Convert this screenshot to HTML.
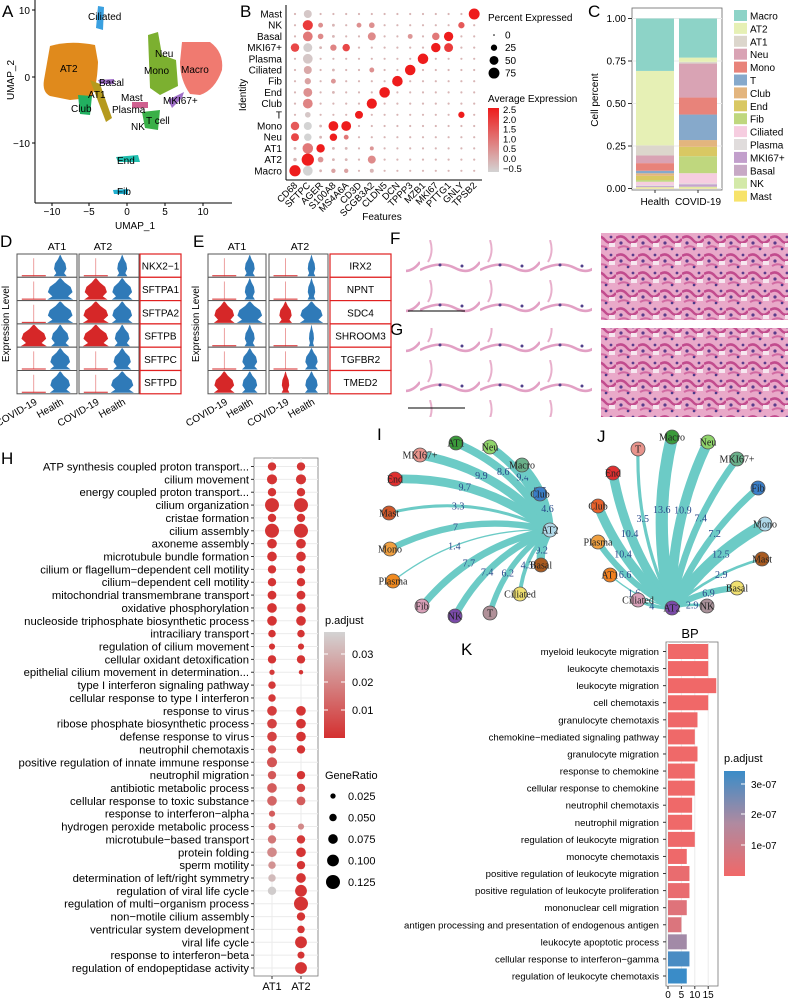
<!DOCTYPE html>
<html><head><meta charset="utf-8">
<style>
html,body{margin:0;padding:0;background:#fff;}
svg{display:block;font-family:"Liberation Sans",sans-serif;}
.ser{font-family:"Liberation Serif",serif;}
</style></head>
<body>
<svg id="fig" width="788" height="1000" viewBox="0 0 788 1000" xmlns="http://www.w3.org/2000/svg">
<rect x="0" y="0" width="788" height="1000" fill="#fff"/>
<!-- panel letters -->
<g font-size="17" fill="#000">
<text x="2" y="17">A</text><text x="240" y="17">B</text><text x="588" y="17">C</text>
<text x="0" y="247">D</text><text x="193" y="247">E</text><text x="390" y="244">F</text><text x="390" y="335">G</text>
<text x="1" y="464">H</text><text x="377" y="440">I</text><text x="597" y="442">J</text><text x="461" y="655">K</text>
</g>

<!-- Panel A UMAP -->
<g id="umap">
<line x1="35" y1="0" x2="35" y2="203" stroke="#000" stroke-width="1"/>
<line x1="35" y1="203" x2="232" y2="203" stroke="#000" stroke-width="1"/>
<g font-size="10" text-anchor="end">
<text x="30" y="14">10</text><text x="30" y="81">0</text><text x="30" y="147">−10</text>
</g>
<g stroke="#000"><line x1="32" y1="10" x2="35" y2="10"/><line x1="32" y1="77" x2="35" y2="77"/><line x1="32" y1="143" x2="35" y2="143"/></g>
<g font-size="10" text-anchor="middle">
<text x="52" y="215">−10</text><text x="89" y="215">−5</text><text x="127" y="215">0</text><text x="165" y="215">5</text><text x="203" y="215">10</text>
</g>
<g stroke="#000"><line x1="52" y1="203" x2="52" y2="206"/><line x1="89" y1="203" x2="89" y2="206"/><line x1="127" y1="203" x2="127" y2="206"/><line x1="165" y1="203" x2="165" y2="206"/><line x1="203" y1="203" x2="203" y2="206"/></g>
<text x="135" y="229" font-size="10" text-anchor="middle">UMAP_1</text>
<text x="14" y="80" font-size="10" text-anchor="middle" transform="rotate(-90 14 80)">UMAP_2</text>
<path d="M50,46 Q70,40 95,45 L98,62 Q97,90 90,98 L70,100 L50,96 Q42,92 44,80 Z" fill="#e08a1c"/>
<path d="M90,80 L100,84 L112,118 L106,122 Z" fill="#b59a1e"/>
<path d="M78,95 L92,96 L90,115 L80,114 Z" fill="#22b060"/>
<path d="M98,6 L104,7 L103,30 L96,28 Z" fill="#3aa0e0"/>
<path d="M148,35 L158,32 L162,55 L176,60 L178,86 L160,95 L150,88 Z" fill="#7cb030"/>
<path d="M182,42 L210,42 Q224,52 222,70 Q215,90 200,95 L190,94 Q180,80 180,62 Z" fill="#f07a70"/>
<path d="M142,112 L160,110 L158,130 L145,128 Z" fill="#3ab048"/>
<path d="M168,100 L184,92 L182,98 L172,108 Z" fill="#a070c8"/>
<path d="M98,80 L114,79 L114,84 L100,84 Z" fill="#a070c8"/>
<path d="M132,102 L148,102 L148,108 L132,108 Z" fill="#d06090"/>
<path d="M116,157 L138,155 L140,162 L118,162 Z" fill="#20c0b0"/>
<path d="M113,190 L128,189 L128,194 L114,194 Z" fill="#20b0d0"/>
<g font-size="10" fill="#000">
<text x="88" y="20">Ciliated</text><text x="60" y="72">AT2</text><text x="99" y="86">Basal</text><text x="88" y="98">AT1</text><text x="71" y="112">Club</text>
<text x="155" y="57">Neu</text><text x="144" y="74">Mono</text><text x="181" y="73">Macro</text><text x="121" y="101">Mast</text><text x="112" y="113">Plasma</text>
<text x="163" y="104">MKI67+</text><text x="146" y="124">T cell</text><text x="131" y="130">NK</text><text x="117" y="164">End</text><text x="117" y="195">Fib</text>
</g>
</g>

<g id="dotplot"></g>
<g id="stack"></g>
<g id="violins"></g>

<!-- F/G histology -->
<defs>
<pattern id="tissue" width="22" height="18" patternUnits="userSpaceOnUse">
<rect width="22" height="18" fill="#e9a9c9"/>
<path d="M0,4 Q6,0 11,6 T22,5" stroke="#c24c8e" stroke-width="2.5" fill="none"/>
<path d="M2,14 Q9,10 14,15" stroke="#d26aa2" stroke-width="2" fill="none"/>
<rect x="15" y="9" width="6" height="4" fill="#f6e6ef"/>
<circle cx="5" cy="9" r="1.6" fill="#5a3c8c"/><circle cx="17" cy="3" r="1.4" fill="#5a3c8c"/><circle cx="12" cy="15" r="1.3" fill="#4a3a8a"/>
</pattern>
<pattern id="thin" width="60" height="40" patternUnits="userSpaceOnUse">
<rect width="60" height="40" fill="#fff"/>
<path d="M0,30 Q20,20 35,28 T60,22" stroke="#e2a0c4" stroke-width="2.5" fill="none"/>
<path d="M10,0 Q14,12 8,22" stroke="#e8b0cc" stroke-width="2" fill="none"/>
<circle cx="20" cy="25" r="1.5" fill="#50408a"/><circle cx="42" cy="26" r="1.5" fill="#50408a"/>
</pattern>
</defs>
<g>
<rect x="406" y="233" width="186" height="87" fill="url(#thin)"/>
<rect x="601" y="233" width="187" height="87" fill="url(#tissue)"/>
<rect x="406" y="328" width="186" height="89" fill="url(#thin)"/>
<rect x="601" y="328" width="187" height="89" fill="url(#tissue)"/>
<line x1="408" y1="311" x2="465" y2="311" stroke="#000"/><line x1="408" y1="408" x2="465" y2="408" stroke="#000"/>
</g>

<g id="hplot"></g>
<g id="net"></g>
<g id="kplot"></g>
</svg>

<script>
const NS="http://www.w3.org/2000/svg";
function mk(parent,tag,attrs,text){const e=document.createElementNS(NS,tag);for(const k in attrs)e.setAttribute(k,attrs[k]);if(text!==undefined)e.textContent=text;parent.appendChild(e);return e;}
function mix(c1,c2,t){t=Math.max(0,Math.min(1,t));const a=c1.match(/\w\w/g).map(h=>parseInt(h,16)),b=c2.match(/\w\w/g).map(h=>parseInt(h,16));return "rgb("+a.map((v,i)=>Math.round(v+(b[i]-v)*t)).join(",")+")";}

/* ===== B dot plot ===== */
const bRows=["Macro","AT2","AT1","Neu","Mono","T","Club","End","Fib","Ciliated","Plasma","MKI67+","Basal","NK","Mast"];
const bGenes=["CD68","SFTPC","AGER","S100A8","MS4A6A","CD3D","SCGB3A2","CLDN5","DCN","TPPP3","MZB1","MKI67","PTTG1","GNLY","TPSB2"];
const bPct=[
[80,60,5,12,12,3,10,3,3,3,3,3,3,3,3],
[8,95,20,5,5,3,40,3,3,3,3,3,3,3,3],
[5,70,45,5,5,3,10,3,3,3,3,3,3,3,3],
[40,35,5,35,15,3,3,3,3,3,3,3,3,3,3],
[45,40,5,60,60,3,3,3,3,3,3,3,3,3,3],
[3,20,3,3,3,40,3,3,3,3,3,3,3,25,3],
[3,60,3,3,3,3,65,3,3,3,3,3,3,3,3],
[3,50,3,5,3,3,3,70,3,3,3,3,3,3,3],
[3,25,3,15,3,3,3,3,70,3,3,3,3,3,3],
[3,40,3,5,3,3,15,3,3,70,3,3,3,3,3],
[3,60,3,3,3,3,3,3,3,3,70,3,3,3,3],
[45,50,5,25,35,3,3,3,3,3,3,55,50,3,3],
[3,60,20,5,3,3,40,3,3,15,3,35,55,3,3],
[3,65,15,5,3,15,20,3,3,3,3,3,3,25,3],
[3,40,3,3,3,3,3,3,3,3,3,3,3,3,75]];
const bAvg=[
[2.5,-0.5,0,0.3,0.3,0,0,0,0,0,0,0,0,0,0],
[0,2.5,0.5,0,0,0,0.7,0,0,0,0,0,0,0,0],
[0,1,2.5,0,0,0,0.5,0,0,0,0,0,0,0,0],
[1.8,-0.5,0,2.5,1,0,0,0,0,0,0,0,0,0,0],
[1.5,-0.5,0,2.5,2.5,0,0,0,0,0,0,0,0,0,0],
[0,-0.3,0,0,0,2.5,0,0,0,0,0,0,0,2.5,0],
[0,0.8,0,0,0,0,2.5,0,0,0,0,0,0,0,0],
[0,0.6,0,0,0,0,0,2.5,0,0,0,0,0,0,0],
[0,0.3,0,0.5,0,0,0,0,2.5,0,0,0,0,0,0],
[0,0.2,0,0,0,0,0.6,0,0,2.5,0,0,0,0,0],
[0,-0.3,0,0,0,0,0,0,0,0,2.5,0,0,0,0],
[1.8,-0.4,0,0.8,1.8,0,0,0,0,0,0,2.5,2.0,0,0],
[0,1,0.7,0,0,0,0.7,0,0,0.5,0,1,2.5,0,0],
[0,2,0.6,0,0,0.6,0.6,0,0,0,0,0,0,1.5,0],
[0,-0.3,0,0,0,0,0,0,0,0,0,0,0,0,2.5]];
(function(){
 const g=document.getElementById("dotplot");
 const x0=295,dx=12.8,yTop=14,dy=11.2;
 const X=i=>x0+i*dx, Y=r=>yTop+(bRows.length-1-r)*dy;
 const col=v=>mix("d3d3d3","ee1c1c",(v+0.5)/3);
 mk(g,"line",{x1:286,y1:5,x2:286,y2:180,stroke:"#000"});
 mk(g,"line",{x1:286,y1:180,x2:482,y2:180,stroke:"#000"});
 bRows.forEach((r,ri)=>{const t=mk(g,"text",{x:282,y:Y(ri)+3.5,"font-size":10,"text-anchor":"end"},r);
  
  });
 bGenes.forEach((n,gi)=>{const t=mk(g,"text",{x:X(gi)+3,y:186,"font-size":9.5,"text-anchor":"end",transform:`rotate(-45 ${X(gi)+3} 186)`},n);
  
  });
 mk(g,"text",{x:382,y:220,"font-size":10,"text-anchor":"middle"},"Features");
 mk(g,"text",{x:246,y:95,"font-size":10,"text-anchor":"middle",transform:"rotate(-90 246 95)"},"Identity");
 bRows.forEach((r,ri)=>bGenes.forEach((n,gi)=>{
  const c=mk(g,"circle",{cx:X(gi),cy:Y(ri),r:Math.max(0.8,Math.sqrt(bPct[ri][gi]/100)*6.3),fill:col(bAvg[ri][gi])});
  
  }));
 mk(g,"text",{x:488,y:21,"font-size":10},"Percent Expressed");
 [0,25,50,75].forEach((p,i)=>{const c=mk(g,"circle",{cx:494,cy:35+i*12.7,r:Math.max(0.8,Math.sqrt(p/100)*6.3),fill:"#000"});
  
  
  mk(g,"text",{x:505,y:38.5+i*12.7,"font-size":10},String(p));});
 mk(g,"text",{x:488,y:102,"font-size":10},"Average Expression");
 const gr=mk(g,"linearGradient",{id:"avgGrad",x1:0,y1:1,x2:0,y2:0});
 mk(gr,"stop",{offset:"0","stop-color":"#d3d3d3"});mk(gr,"stop",{offset:"1","stop-color":"#ee1c1c"});
 mk(g,"rect",{x:488,y:108,width:11,height:64,fill:"url(#avgGrad)"});
 ["2.5","2.0","1.5","1.0","0.5","0.0","−0.5"].forEach((s,i)=>mk(g,"text",{x:503,y:113+i*9.8,"font-size":9.5},s));
})();

/* ===== C stacked bar ===== */
const cTypes=["Macro","AT2","AT1","Neu","Mono","T","Club","End","Fib","Ciliated","Plasma","MKI67+","Basal","NK","Mast"];
const cColors=["#8dd3c7","#e6f0b5","#dcd6cc","#d9a3b4","#e8837a","#86a9cb","#e3b57e","#d9c863","#bfd77e","#f6cde0","#e0dcdc","#c29fcc","#c7a9c5","#d3e9a8","#f7e36a"];
const cHealth=[0.31,0.44,0.06,0.045,0.045,0.015,0.015,0.025,0.01,0.02,0.005,0.005,0.002,0.003,0.005];
const cCovid=[0.23,0.025,0.01,0.2,0.1,0.15,0.04,0.055,0.1,0.06,0.005,0.01,0.005,0.005,0.005];
const cGroups=["Health","COVID-19"];
(function(){
 const g=document.getElementById("stack");
 const px0=632,px1=722,py0=190,yT=y=>188.5-y*170;
 mk(g,"rect",{x:px0,y:8,width:px1-px0,height:py0-8,fill:"#fff",stroke:"#666","stroke-width":0.8});
 [0,0.25,0.5,0.75,1].forEach(v=>{mk(g,"line",{x1:px0,x2:px1,y1:yT(v),y2:yT(v),stroke:"#ebebeb"});
  mk(g,"text",{x:626,y:yT(v)+3.5,"font-size":10,"text-anchor":"end"},v.toFixed(2));
  mk(g,"line",{x1:628,x2:px0,y1:yT(v),y2:yT(v),stroke:"#333"});});
 mk(g,"text",{x:598,y:100,"font-size":10,"text-anchor":"middle",transform:"rotate(-90 598 100)"},"Cell percent");
 [cHealth,cCovid].forEach((arr,gi)=>{
  const tot=arr.reduce((a,b)=>a+b,0);let cum=0;const bx=[636,679][gi];
  for(let i=arr.length-1;i>=0;i--){const v=arr[i]/tot;
   const r=mk(g,"rect",{x:bx,y:yT(cum+v),width:38,height:v*170,fill:cColors[i]});
   
   
   cum+=v;}
  mk(g,"text",{x:bx+19,y:205,"font-size":10,"text-anchor":"middle"},cGroups[gi]);
  mk(g,"line",{x1:bx+19,x2:bx+19,y1:py0,y2:py0+3,stroke:"#333"});
 });
 cTypes.forEach((t,i)=>{const r=mk(g,"rect",{x:734,y:10+i*12.9,width:13,height:11,fill:cColors[i]});
  
  
  mk(g,"text",{x:750,y:19.5+i*12.9,"font-size":10},t);});
})();

/* ===== D/E violins ===== */
const dGenes=["NKX2−1","SFTPA1","SFTPA2","SFTPB","SFTPC","SFTPD"];
const eGenes=["IRX2","NPNT","SDC4","SHROOM3","TGFBR2","TMED2"];
// per gene: [AT1 covid, AT1 health, AT2 covid, AT2 health] widths (0..1)
const dW=[[0,0.5,0,0.4],[0,1,0.9,0.8],[0,1,1,0.8],[1,0.7,1,0.6],[0,0.8,0,0.7],[0,0.8,0,0.9]];
const eW=[[0,0.4,0,0.3],[0,0.4,0,0.3],[0.8,1,0.5,0.9],[0,0.4,0,0.2],[0,0.6,0,0.5],[0.8,0.6,0.3,0.5]];
(function(){
 const g=document.getElementById("violins");
 function violin(cx,yb,h,w,col){
  if(w<=0){mk(g,"line",{x1:cx,x2:cx,y1:yb,y2:yb-h*0.85,stroke:"#e06060","stroke-width":0.6});
   mk(g,"line",{x1:cx-12,x2:cx+12,y1:yb-0.5,y2:yb-0.5,stroke:col,"stroke-width":1});return;}
  const W=w*13, pts=[[0,1],[0.15,0.6],[0.35,0.95],[0.6,0.8],[0.8,0.35],[1,0.05]];
  let d=`M${cx},${yb}`;pts.forEach(p=>d+=` L${cx+W*p[1]},${yb-p[0]*h}`);
  pts.slice().reverse().forEach(p=>d+=` L${cx-W*p[1]},${yb-p[0]*h}`);
  const e=mk(g,"path",{d:d+"Z",fill:col});
  
  }
 function panel(x0,x1,ySt,genes,W,sx,sw,titleXs){
  const ch=23.3;
  titleXs.forEach((t,i)=>mk(g,"text",{x:t,y:250,"font-size":10.5,"text-anchor":"middle"},i?"AT2":"AT1"));
  [0,1].forEach(p=>{const px=x0[p],pw=x1[p]-x0[p];
   genes.forEach((gn,i)=>{const y=ySt+i*ch;
    mk(g,"rect",{x:px,y:y,width:pw,height:ch,fill:"#fff",stroke:"#555","stroke-width":1});
    violin(px+pw*0.28,y+ch-1,ch-2,W[i][p*2],"#d62728");
    violin(px+pw*0.72,y+ch-1,ch-2,W[i][p*2+1],"#2f7ab8");});
   mk(g,"text",{x:px+pw*0.28+4,y:ySt+6*ch+10,"font-size":10,"text-anchor":"end",transform:`rotate(-30 ${px+pw*0.28+4} ${ySt+6*ch+10})`},"COVID-19");
   mk(g,"text",{x:px+pw*0.72+4,y:ySt+6*ch+10,"font-size":10,"text-anchor":"end",transform:`rotate(-30 ${px+pw*0.72+4} ${ySt+6*ch+10})`},"Health");
  });
  genes.forEach((gn,i)=>{const y=ySt+i*ch;
   const r=mk(g,"rect",{x:sx,y:y,width:sw,height:ch,fill:"#fff",stroke:"#e02020","stroke-width":1.2});
   
   
   mk(g,"text",{x:sx+sw/2,y:y+ch/2+4,"font-size":10,"text-anchor":"middle"},gn);});
 }
 panel([17,79],[77,139],254,dGenes,dW,140,41,[57,103]);
 panel([208,269],[266,328],254,eGenes,eW,330,61,[237,300]);
 mk(g,"text",{x:9,y:324,"font-size":10,"text-anchor":"middle",transform:"rotate(-90 9 324)"},"Expression Level");
 mk(g,"text",{x:199,y:324,"font-size":10,"text-anchor":"middle",transform:"rotate(-90 199 324)"},"Expression Level");
})();

/* ===== H GO dotplot ===== */
const hTerms=["ATP synthesis coupled proton transport...","cilium movement","energy coupled proton transport...","cilium organization","cristae formation","cilium assembly","axoneme assembly","microtubule bundle formation","cilium or flagellum−dependent cell motility","cilium−dependent cell motility","mitochondrial transmembrane transport","oxidative phosphorylation","nucleoside triphosphate biosynthetic process","intraciliary transport","regulation of cilium movement","cellular oxidant detoxification","epithelial cilium movement in determination...","type I interferon signaling pathway","cellular response to type I interferon","response to virus","ribose phosphate biosynthetic process","defense response to virus","neutrophil chemotaxis","positive regulation of innate immune response","neutrophil migration","antibiotic metabolic process","cellular response to toxic substance","response to interferon−alpha","hydrogen peroxide metabolic process","microtubule−based transport","protein folding","sperm motility","determination of left/right symmetry","regulation of viral life cycle","regulation of multi−organism process","non−motile cilium assembly","ventricular system development","viral life cycle","response to interferon−beta","regulation of endopeptidase activity"];
const hRatioAT1=[0.06,0.08,0.06,0.125,0.06,0.125,0.075,0.075,0.06,0.06,0.065,0.075,0.075,0.05,0.035,0.06,0.025,0.05,0.05,0.075,0.075,0.075,0.06,0.08,0.06,0.075,0.075,0.035,0.045,0.06,0.075,0.05,0.05,0.06,null,null,null,null,null,null];
const hRatioAT2=[0.06,0.08,0.06,0.125,0.06,0.125,0.075,0.075,0.06,0.06,0.065,0.07,0.075,0.05,0.035,0.06,0.015,null,null,0.075,0.075,0.075,0.06,null,0.06,0.06,0.065,null,0.035,0.06,0.075,0.06,0.075,0.1,0.125,0.06,0.05,0.1,0.045,0.1];
const hPAT1=[0.001,0.001,0.001,0.001,0.001,0.001,0.001,0.001,0.001,0.001,0.001,0.001,0.001,0.001,0.001,0.001,0.002,0.002,0.002,0.003,0.004,0.004,0.006,0.008,0.009,0.01,0.012,0.01,0.013,0.016,0.02,0.022,0.031,0.035,0,0,0,0,0,0];
const hPAT2=[0.001,0.001,0.001,0.001,0.001,0.001,0.001,0.001,0.001,0.001,0.001,0.001,0.001,0.001,0.001,0.001,0.001,0,0,0.001,0.001,0.001,0.001,0,0.001,0.004,0.01,0,0.02,0.002,0.001,0.001,0.001,0.001,0.001,0.001,0.001,0.001,0.001,0.001];
(function(){
 const g=document.getElementById("hplot");
 const yTop=466.5,dy=(968-466.5)/(hTerms.length-1);
 const Y=i=>yTop+i*dy, xs=[272,301];
 const R=v=>2+(v-0.01)/0.115*5;
 const col=p=>mix("d43030","d0d0d0",p/0.036);
 mk(g,"rect",{x:254,y:458,width:64,height:518,fill:"#fff",stroke:"#777","stroke-width":0.8});
 hTerms.forEach((t,i)=>{mk(g,"line",{x1:254,x2:318,y1:Y(i),y2:Y(i),stroke:"#ebebeb"});
  const tx=mk(g,"text",{x:249,y:Y(i)+4,"font-size":11.3,"text-anchor":"end"},t);
  
  
  mk(g,"line",{x1:251,x2:254,y1:Y(i),y2:Y(i),stroke:"#333"});});
 xs.forEach(x=>mk(g,"line",{x1:x,x2:x,y1:458,y2:976,stroke:"#ebebeb"}));
 [[hRatioAT1,hPAT1],[hRatioAT2,hPAT2]].forEach((pair,ci)=>pair[0].forEach((v,i)=>{if(v==null)return;
  const c=mk(g,"circle",{cx:xs[ci],cy:Y(i),r:R(v),fill:col(pair[1][i])});
  
  }));
 ["AT1","AT2"].forEach((t,i)=>{mk(g,"text",{x:xs[i],y:990,"font-size":11,"text-anchor":"middle"},t);mk(g,"line",{x1:xs[i],x2:xs[i],y1:976,y2:979,stroke:"#333"});});
 mk(g,"text",{x:325,y:624,"font-size":11},"p.adjust");
 const gr=mk(g,"linearGradient",{id:"hGrad",x1:0,y1:1,x2:0,y2:0});
 mk(gr,"stop",{offset:"0","stop-color":"#d43030"});mk(gr,"stop",{offset:"1","stop-color":"#d3d3d3"});
 mk(g,"rect",{x:324,y:632,width:21,height:106,fill:"url(#hGrad)"});
 [["0.03",654],["0.02",682],["0.01",710]].forEach(a=>{mk(g,"line",{x1:324,x2:328,y1:a[1],y2:a[1],stroke:"#fff"});mk(g,"line",{x1:341,x2:345,y1:a[1],y2:a[1],stroke:"#fff"});mk(g,"text",{x:352,y:a[1]+4,"font-size":11},a[0]);});
 mk(g,"text",{x:325,y:779,"font-size":11},"GeneRatio");
 [0.025,0.05,0.075,0.1,0.125].forEach((v,i)=>{const c=mk(g,"circle",{cx:333,cy:796+i*21.5,r:R(v),fill:"#000"});
  
  
  mk(g,"text",{x:348,y:800+i*21.5,"font-size":11},v.toFixed(3));});
})();

/* ===== I/J networks ===== */
const iNames=["MKI67+","AT1","Neu","Macro","End","Club","Mast","Mono","Basal","Plasma","Ciliated","Fib","NK","T"];
const iVals=[9.9,8.6,9.4,8.7,9.7,4.6,3.3,7,9.2,1.4,4.3,7.7,7.4,6.2];
const jNames=["T","Macro","Neu","MKI67+","End","Fib","Club","Mono","Plasma","Mast","AT1","Basal","Ciliated","NK"];
const jVals=[3.5,13.6,10.9,7.4,10.4,7.2,10.4,12.5,6.6,2.9,1.6,6.9,4,2.9];
(function(){
 const g=document.getElementById("net");
 const iPos={"MKI67+":[420,455],"AT1":[456,443],"Neu":[490,447],"Macro":[522,465],"End":[395,479],"Club":[540,494],"Mast":[389,513],"Mono":[390,549],"Basal":[541,565],"Plasma":[393,581],"Ciliated":[520,594],"Fib":[422,606],"NK":[455,616],"T":[490,613],"AT2":[550,530]};
 const jPos={"T":[638,449],"Macro":[672,437],"Neu":[708,442],"MKI67+":[737,459],"End":[613,473],"Fib":[758,488],"Club":[598,506],"Mono":[765,524],"Plasma":[598,542],"Mast":[762,559],"AT1":[610,575],"Basal":[737,588],"Ciliated":[638,600],"AT2":[672,608],"NK":[707,606]};
 const nodeCol={"MKI67+":"#e8948c","AT1":"#3a9a3a","Neu":"#8fd46a","Macro":"#5fa882","End":"#e03030","Club":"#e8602a","Mast":"#d0582a","Mono":"#f0a040","Basal":"#a85a20","Plasma":"#f08a20","Ciliated":"#f0e070","Fib":"#d8a0b8","NK":"#7a4aa8","T":"#b09098","AT2":"#b0d8e8"};
 const iCol=Object.assign({},nodeCol,{"Club":"#3a7ec8","Macro":"#6ab08a"});
 const jCol=Object.assign({},nodeCol,{"Fib":"#3a7ec8","Mono":"#b0d8e8","AT2":"#7a4aa8","NK":"#a89098","Basal":"#f0e070","Ciliated":"#d8a0b8","T":"#e8948c","Macro":"#3a9a3a","MKI67+":"#6ab08a","AT1":"#f08020","Plasma":"#f0a040","Mast":"#a85a20"});
 function net(names,vals,pos,cols,bend){
  const h=pos["AT2"];
  names.forEach((n,i)=>{const p=pos[n];const mx=(p[0]+h[0])/2,my=(p[1]+h[1])/2;
   const dx=h[0]-p[0],dy=h[1]-p[1];const cx=mx+dy*bend,cy=my-dx*bend;
   const e=mk(g,"path",{d:`M${p[0]},${p[1]} Q${cx},${cy} ${h[0]},${h[1]}`,fill:"none",stroke:"#6ccbc6","stroke-width":Math.max(1,vals[i]*0.9)});
   
   
   const lx=0.25*p[0]+0.5*cx+0.25*h[0]+ (p[0]-h[0])*0.08,ly=0.25*p[1]+0.5*cy+0.25*h[1]+(p[1]-h[1])*0.08;
   mk(g,"text",{x:lx,y:ly+4,"font-size":10,"text-anchor":"middle",fill:"#2a4a8a",class:"ser"},String(vals[i]));
  });
  Object.keys(pos).forEach(n=>{const p=pos[n];
   const c=mk(g,"circle",{cx:p[0],cy:p[1],r:7,fill:cols[n],stroke:"#555","stroke-width":0.8});
   
   
   mk(g,"text",{x:p[0],y:p[1]+3.5,"font-size":10,"text-anchor":"middle",class:"ser",fill:"#222"},n);});
 }
 net(iNames,iVals,iPos,iCol,0.18);
 net(jNames,jVals,jPos,jCol,-0.12);
})();

/* ===== K barplot ===== */
const kTerms=["myeloid leukocyte migration","leukocyte chemotaxis","leukocyte migration","cell chemotaxis","granulocyte chemotaxis","chemokine−mediated signaling pathway","granulocyte migration","response to chemokine","cellular response to chemokine","neutrophil chemotaxis","neutrophil migration","regulation of leukocyte migration","monocyte chemotaxis","positive regulation of leukocyte migration","positive regulation of leukocyte proliferation","mononuclear cell migration","antigen processing and presentation of endogenous antigen","leukocyte apoptotic process","cellular response to interferon−gamma","regulation of leukocyte chemotaxis"];
const kCounts=[15,15,18,15,11,10,11,10,10,9,9,10,7,8,8,7,5,7,8,7];
const kP=[0.1e-8,0.1e-8,0.1e-8,0.1e-8,0.2e-8,0.3e-8,0.3e-8,0.3e-8,0.3e-8,0.4e-8,0.4e-8,0.5e-8,0.5e-8,0.2e-7,0.2e-7,0.5e-7,0.6e-7,1.9e-7,3.1e-7,3.3e-7];
(function(){
 const g=document.getElementById("kplot");
 const x0=668,sx=2.68,yTop=651.5,dy=(976-651.5)/(kTerms.length-1);
 const X=v=>x0+v*sx,Y=i=>yTop+i*dy;
 const col=p=>p<1.6e-7?mix("f06868","b88aa0",p/1.6e-7):mix("b88aa0","3a8cc8",(p-1.6e-7)/1.7e-7);
 mk(g,"text",{x:690,y:638,"font-size":13,"text-anchor":"middle"},"BP");
 mk(g,"rect",{x:666,y:642,width:52,height:344,fill:"#fff",stroke:"#777","stroke-width":0.8});
 [0,5,10,15].forEach(v=>{mk(g,"line",{x1:X(v),x2:X(v),y1:642,y2:986,stroke:"#ebebeb"});
  mk(g,"text",{x:X(v),y:998,"font-size":10,"text-anchor":"middle"},String(v));
  mk(g,"line",{x1:X(v),x2:X(v),y1:986,y2:989,stroke:"#333"});});
 kTerms.forEach((t,i)=>{
  const tx=mk(g,"text",{x:659,y:Y(i)+3.5,"font-size":9.6,"text-anchor":"end"},t);
  
  
  mk(g,"line",{x1:663,x2:666,y1:Y(i),y2:Y(i),stroke:"#333"});
  const b=mk(g,"rect",{x:x0,y:Y(i)-7.5,width:X(kCounts[i])-x0,height:15,fill:col(kP[i])});
  
  });
 mk(g,"text",{x:724,y:762,"font-size":11},"p.adjust");
 const gr=mk(g,"linearGradient",{id:"kGrad",x1:0,y1:1,x2:0,y2:0});
 mk(gr,"stop",{offset:"0","stop-color":"#f06868"});mk(gr,"stop",{offset:"0.5","stop-color":"#b08aa0"});mk(gr,"stop",{offset:"1","stop-color":"#3a8cc8"});
 mk(g,"rect",{x:724,y:771,width:21,height:105,fill:"url(#kGrad)"});
 [["3e-07",784],["2e-07",814],["1e-07",845]].forEach(a=>{mk(g,"line",{x1:741,x2:745,y1:a[1],y2:a[1],stroke:"#fff"});mk(g,"text",{x:751,y:a[1]+4,"font-size":10},a[0]);});
})();
</script>
</body></html>
